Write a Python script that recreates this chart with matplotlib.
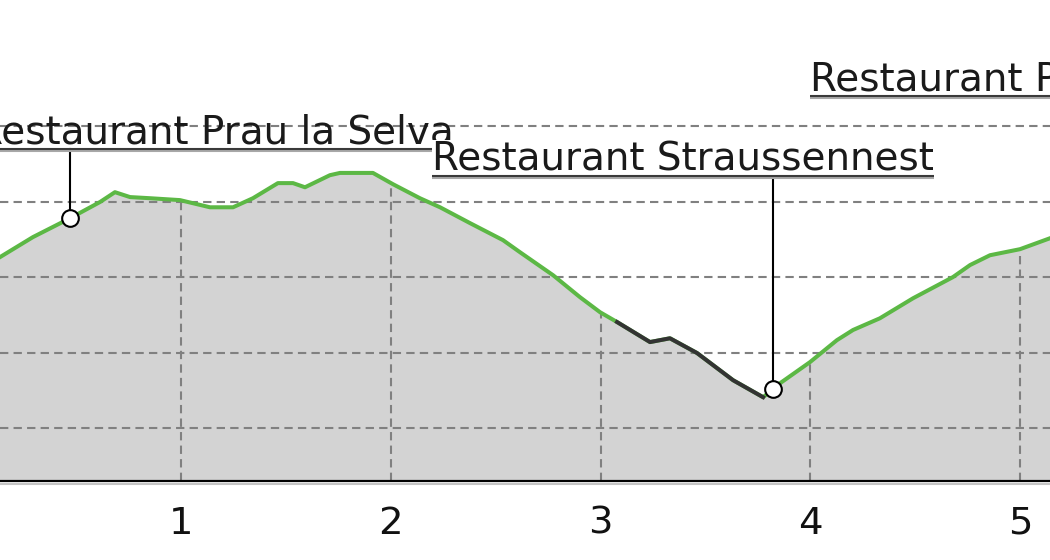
import numpy as np
import matplotlib
matplotlib.use("Agg")
import matplotlib.pyplot as plt

# ---------------- data ----------------
distance_km = [0.137, 0.294, 0.471, 0.614, 0.685, 0.757, 0.852, 0.995, 1.138, 1.248,
               1.343, 1.462, 1.534, 1.591, 1.710, 1.758, 1.915, 2.011, 2.139, 2.235,
               2.378, 2.535, 2.616, 2.774, 2.902, 2.998, 3.079, 3.236, 3.331, 3.460,
               3.632, 3.775, 3.822, 3.856, 3.999, 4.127, 4.204, 4.332, 4.490, 4.680,
               4.762, 4.857, 5.000, 5.143]
elevation_m = [1345.3, 1350.6, 1355.6, 1359.9, 1362.5, 1361.2, 1360.9, 1360.4, 1358.5, 1358.5,
               1360.9, 1364.9, 1364.9, 1363.8, 1367.0, 1367.6, 1367.6, 1364.6, 1360.9, 1358.5,
               1354.3, 1349.8, 1346.6, 1340.5, 1334.7, 1330.7, 1328.1, 1322.8, 1323.8, 1319.9,
               1312.7, 1308.2, 1310.3, 1311.9, 1317.5, 1323.3, 1326.0, 1329.1, 1334.4, 1340.0,
               1343.2, 1345.8, 1347.4, 1350.3]
road_section_km = [3.079, 3.775]   # dark part of the profile

poi_names = ["Restaurant Prau la Selva", "Restaurant Straussennest", "Restaurant Pradaschier"]
poi_km = [0.471, 3.822, None]
poi_elev = [1355.6, 1310.3, None]

x_ticks = [1, 2, 3, 4, 5]
x_tick_labels = ["1", "2", "3", "4", "5"]
elev_grid = [1300, 1320, 1340, 1360, 1380]

# ---------------- layout / style ----------------
label_x_km = [0.021, 2.196, 3.999]
label_baseline_m = [1375.5, 1368.3, 1389.5]
label_white_box = [False, True, True]

GREEN = "#5cb845"
DARK = "#333333"
FILL = "#d3d3d3"
GRID = "#808080"
FS = 28.0
TICK_FS = 27.7

fig = plt.figure(figsize=(10.5, 5.6), dpi=100)
ax = fig.add_axes([0, 79 / 560, 1, 481 / 560])
ax.set_xlim(0.137, 5.143)
ax.set_ylim(1286.0, 1413.4)

x = np.array(distance_km)
y = np.array(elevation_m)
ybot = ax.get_ylim()[0]

ax.fill_between(x, y, ybot, color=FILL, lw=0, zorder=1)

# horizontal grid
ax.set_yticks(elev_grid)
ax.set_axisbelow(False)
ax.yaxis.grid(True, color=GRID, linestyle=(0, (4, 2.5)), linewidth=1.5)
ax.tick_params(axis="y", left=False, labelleft=False)

# vertical grid only below the profile
for k in x_ticks:
    ax.plot([k, k], [ybot, np.interp(k, x, y)], color=GRID,
            linestyle=(0, (4, 2.5)), linewidth=1.5, zorder=2)

# x ticks
ax.set_xticks(x_ticks)
ax.set_xticklabels(x_tick_labels)
ax.tick_params(axis="x", length=0, pad=18, labelsize=TICK_FS, labelcolor="#111111")

for s in ["top", "left", "right"]:
    ax.spines[s].set_visible(False)
ax.spines["bottom"].set_color("black")
ax.spines["bottom"].set_linewidth(1.6)
ax.spines["bottom"].set_zorder(4)
fig.add_artist(plt.Line2D([0, 1], [(79 - 2.5) / 560] * 2, color="#c4c4c4", lw=1.5,
                          transform=fig.transFigure))

# profile line
ax.plot(x, y, color=GREEN, lw=2.9, zorder=3, solid_joinstyle="round")
m = (x >= road_section_km[0]) & (x <= road_section_km[1])
ax.plot(x[m], y[m], color=DARK, lw=2.9, zorder=3.1, solid_joinstyle="round")

# labels
texts = []
for i, name in enumerate(poi_names):
    kw = {}
    if label_white_box[i]:
        kw["bbox"] = dict(boxstyle="square,pad=0", fc="white", ec="none")
    t = ax.text(label_x_km[i], label_baseline_m[i], name, fontsize=FS, color="#1a1a1a",
                va="baseline", ha="left", zorder=6 + 2 * i, clip_on=False, **kw)
    texts.append(t)

fig.canvas.draw()
r = fig.canvas.get_renderer()
inv = ax.transData.inverted()
for i, t in enumerate(texts):
    bb = t.get_window_extent(r)
    bx, by = ax.transData.transform((label_x_km[i], label_baseline_m[i]))
    ul = by - 6
    (x0, yul), (x1, _) = inv.transform([(bx, ul), (bb.x1, ul)])
    (_, yul2) = inv.transform((bx, ul - 2))
    ax.plot([x0, x1], [yul2, yul2], color="#a8a8a8", lw=1.5, zorder=7 + 2 * i,
            clip_on=False, solid_capstyle="butt")
    ax.plot([x0, x1], [yul, yul], color="#3a3a3a", lw=1.5, zorder=7.1 + 2 * i,
            clip_on=False, solid_capstyle="butt")
    if poi_km[i] is not None:
        ax.plot([poi_km[i], poi_km[i]], [poi_elev[i], yul], color="black", lw=1.5,
                zorder=4, clip_on=False)
        ax.plot(poi_km[i], poi_elev[i], "o", ms=12, mfc="white", mec="black",
                mew=1.5, zorder=5)

fig.savefig("out.png", dpi=100)
